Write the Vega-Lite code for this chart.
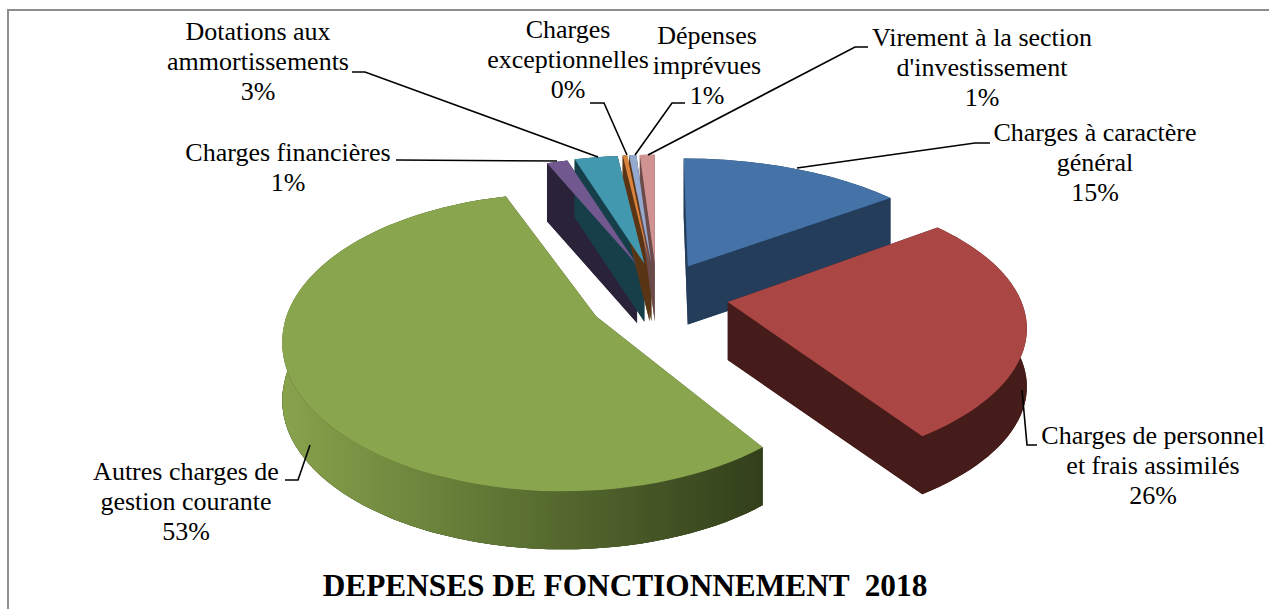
{
"$schema":"https://vega.github.io/schema/vega-lite/v6.json",
"width":1270,"height":610,
"autosize":"none",
"padding":{"left":8,"top":10,"right":0,"bottom":0},
"background":"white",
"config":{"view":{"stroke":"#8E8E8E","strokeWidth":2},"axis":{"domain":false}},
"title":{"text":"DEPENSES DE FONCTIONNEMENT \u00a02018","orient":"top","anchor":"middle","dx":-18,"dy":596,"font":"Liberation Serif","fontSize":31.3,"fontWeight":"bold","color":"black"},
"data":{"values":[
{"key":"gen","name":"Charges à caractère\ngénéral","value":15.0},
{"key":"pers","name":"Charges de personnel\net frais assimilés","value":25.9},
{"key":"aut","name":"Autres charges de\ngestion courante","value":53.0},
{"key":"fin","name":"Charges financières","value":1.4},
{"key":"dot","name":"Dotations aux\nammortissements","value":2.9},
{"key":"exc","name":"Charges\nexceptionnelles","value":0.3},
{"key":"imp","name":"Dépenses\nimprévues","value":0.5},
{"key":"vir","name":"Virement à la section\nd'investissement","value":1.0}
]},
"transform":[
{"window":[{"op":"sum","field":"value","as":"cum"}],"frame":[null,0]},
{"calculate":"(datum.cum-datum.value)*PI/50","as":"a0"},
{"calculate":"datum.cum*PI/50","as":"a1"},
{"calculate":"(datum.a0+datum.a1)/2","as":"m"},
{"calculate":"round(72*sin(datum.m)*100)/100+({gen:-2,aut:3,fin:4,dot:2}[datum.key]||0)","as":"ex"},
{"calculate":"round(-33*cos(datum.m)*100)/100+({aut:5}[datum.key]||0)","as":"ey"},
{"calculate":"round((datum.ex+290*sin(datum.a0)/(1+0.22*cos(datum.a0)))*100)/100+({gen:-4,aut:-26,pers:2}[datum.key]||0)","as":"sx0"},
{"calculate":"round((datum.ey-132*cos(datum.a0)/(1+0.22*cos(datum.a0)))*100)/100+({pers:-6,aut:-5}[datum.key]||0)","as":"sy0"},
{"calculate":"round((datum.ex+290*sin(datum.a1)/(1+0.22*cos(datum.a1)))*100)/100+({gen:-5,pers:2}[datum.key]||0)","as":"sx1"},
{"calculate":"round((datum.ey-132*cos(datum.a1)/(1+0.22*cos(datum.a1)))*100)/100+({pers:-2,aut:-18}[datum.key]||0)","as":"sy1"},
{"calculate":"datum.value>50?1:0","as":"lg"},
{"calculate":"{aut:'281,149',pers:'305,143'}[datum.key]||'297,139'","as":"rr"},
{"calculate":"'M'+datum.ex+','+datum.ey+'L'+datum.sx0+','+datum.sy0+'A'+datum.rr+' 0 '+datum.lg+' 1 '+datum.sx1+','+datum.sy1+'Z'","as":"pTop"},
{"calculate":"'M'+datum.ex+','+(datum.ey+58)+'L'+datum.sx0+','+(datum.sy0+58)+'A'+datum.rr+' 0 '+datum.lg+' 1 '+datum.sx1+','+(datum.sy1+58)+'Z'","as":"pBottom"},
{"calculate":"'M'+datum.sx0+','+datum.sy0+'A'+datum.rr+' 0 '+datum.lg+' 1 '+datum.sx1+','+datum.sy1+'L'+datum.sx1+','+(datum.sy1+58)+'A'+datum.rr+' 0 '+datum.lg+' 0 '+datum.sx0+','+(datum.sy0+58)+'Z'","as":"pBand"},
{"calculate":"'M'+datum.ex+','+datum.ey+'L'+datum.sx0+','+datum.sy0+'L'+datum.sx0+','+(datum.sy0+58)+'L'+datum.ex+','+(datum.ey+58)+'Z'","as":"pQ0"},
{"calculate":"'M'+datum.ex+','+datum.ey+'L'+datum.sx1+','+datum.sy1+'L'+datum.sx1+','+(datum.sy1+58)+'L'+datum.ex+','+(datum.ey+58)+'Z'","as":"pQ1"},
{"calculate":"{gen:1095,pers:1153,aut:186,fin:288,dot:258,exc:568,imp:707,vir:982}[datum.key]","as":"lx"},
{"calculate":"{gen:133,pers:436,aut:472,fin:153,dot:32,exc:30,imp:36,vir:38}[datum.key]","as":"ly"},
{"calculate":"{gen:'M797,168L975,143L990,143',pers:'M1022,390L1027,445L1037,445',aut:'M310,445L298,480L285,480',fin:'M557,161L396,160',dot:'M598,157L365,72L352,72',exc:'M627,155L604,103L590,103',imp:'M635,155L672,103L685,103',vir:'M648,155L855,47L868,47'}[datum.key]","as":"pLead"},
{"calculate":"datum.name+'\\n'+round(datum.value)+'%'","as":"label"}
],
"layer":[
{"transform":[{"fold":["pBottom","pBand","pQ0","pQ1"],"as":["part","pWall"]}],
 "mark":{"type":"point","filled":true,"size":4,"opacity":1},
 "encoding":{"x":{"value":649},"y":{"value":286},
  "shape":{"field":"pWall","type":"nominal","scale":null},
  "color":{"field":"key","type":"nominal","legend":null,"scale":{"domain":["gen","pers","aut","fin","dot","exc","imp","vir"],"range":["#233D5B","#451C19","#3F4F23","#2A2239","#173F4A","#5A3515","#5A3515","#6B4A4A"]}}}},
{"transform":[{"filter":"datum.key==='aut'"}],
 "mark":{"type":"point","filled":true,"size":4,"opacity":1,"fill":{"gradient":"linear","x1":0,"x2":1,"y1":0,"y2":0,"stops":[{"offset":0,"color":"#88A24C"},{"offset":0.45,"color":"#5F7534"},{"offset":1,"color":"#323F1B"}]}},
 "encoding":{"x":{"value":649},"y":{"value":286},"shape":{"field":"pBand","type":"nominal","scale":null}}},
{"mark":{"type":"point","filled":true,"size":4,"opacity":1},
 "encoding":{"x":{"value":649},"y":{"value":286},
  "shape":{"field":"pTop","type":"nominal","scale":null},
  "color":{"field":"key","type":"nominal","legend":null,"scale":{"domain":["gen","pers","aut","fin","dot","exc","imp","vir"],"range":["#4572A7","#AA4643","#89A54E","#71588F","#4198AF","#DB843D","#93A9CF","#D19392"]}}}},
{"mark":{"type":"point","filled":false,"size":4,"opacity":1,"stroke":"black","strokeWidth":1.6},
 "encoding":{"x":{"value":-8},"y":{"value":-10},"shape":{"field":"pLead","type":"nominal","scale":null}}},
{"mark":{"type":"text","font":"Liberation Serif","fontSize":26,"lineBreak":"\n","lineHeight":30,"align":"center","baseline":"middle","color":"black"},
 "encoding":{"x":{"field":"lx","type":"quantitative","scale":{"domain":[8,1278]},"axis":null},
  "y":{"field":"ly","type":"quantitative","scale":{"domain":[620,10]},"axis":null},
  "text":{"field":"label","type":"nominal"}}}
],
"resolve":{"scale":{"color":"independent"}}
}
